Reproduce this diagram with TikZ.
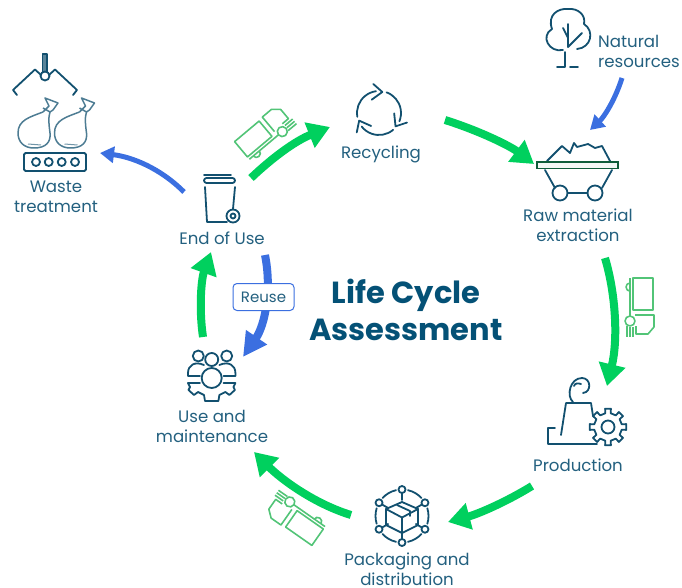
\documentclass[tikz,border=0pt]{standalone}
\usepackage{fontspec}
\setmainfont{Poppins}
\usetikzlibrary{arrows.meta}

\definecolor{lctext}{HTML}{23607F}
\definecolor{lcicon}{HTML}{12506F}
\definecolor{lctitle}{HTML}{045176}
\definecolor{lcgreen}{HTML}{00D05E}
\definecolor{lctruck}{HTML}{52C477}
\definecolor{lcblue}{HTML}{3B6FE0}
\definecolor{lcbar}{HTML}{0F5C3A}

\tikzset{
	stage/.style = {text = lctext, align = center, inner sep = 0, font = \fontsize{16.6}{20}\selectfont},
	icon/.style = {draw = lcicon, line width = 1.8, line join = round, line cap = round},
	greenflow/.style = {draw = lcgreen, line width = 8, -{Triangle[length = 22, width = 26]}},
	blueflow/.style = {draw = lcblue, line width = 5, -{Triangle[length = 14, width = 16]}},
	truck/.pic = {
		\begin{scope}[shift = {(-30, -10)}, draw = lctruck, line width = 1.6, line join = round]
			\draw (0, 0) rectangle (32, 20);
			\draw (0, 23) -- (38, 23);
			\draw (5, 23) arc (180 : 0 : 4) -- (12, 26);
			\draw (43, 23) circle (5);
			\draw (37, 18) -- (37, -1) -- (49, -1) -- (56, 5) -- (56, 17) -- (48, 17);
			\draw (49, 20) -- (59, 20) (49, 23) -- (59, 23) (48, 26) -- (59, 26);
		\end{scope}
	},
	wastebag/.pic = {
		\draw [draw = lcicon!75, line width = 1.5, line join = round]
			(43, 112) .. controls (30, 117) and (18, 120) .. (18, 133)
			.. controls (18, 142) and (24, 148) .. (34, 148)
			.. controls (46, 148) and (51, 142) .. (50, 133)
			.. controls (49, 125) and (48, 118) .. (50, 112);
		\draw [draw = lcicon!75, line width = 1.5, line join = round]
			(43, 112) -- (49, 106) -- (45, 98) -- (58, 103) -- (53, 110) -- (50, 112) -- (43, 108);
		\draw [draw = lcicon!60, line width = 1] (28, 144) -- (41, 145);
	},
}

\begin{document}
\begin{tikzpicture}[x = 1pt, y = -1pt]

	\useasboundingbox (0, 0) rectangle (682, 588);

	% Ends of the flow arrows

	\coordinate (useOut) at (251, 178);
	\coordinate (recycleIn) at (330, 127);
	\coordinate (recycleOut) at (445, 120);
	\coordinate (rawIn) at (534, 164);
	\coordinate (rawOut) at (605, 258);
	\coordinate (prodIn) at (607, 386);
	\coordinate (prodOut) at (532, 486);
	\coordinate (packIn) at (448, 522);
	\coordinate (packOut) at (351, 515);
	\coordinate (maintIn) at (254, 452);
	\coordinate (maintOut) at (203, 337);
	\coordinate (endIn) at (211, 252);
	\coordinate (reuseOut) at (265, 255);
	\coordinate (reuseIn) at (243, 357);
	\coordinate (wasteOut) at (184, 192);
	\coordinate (wasteIn) at (100, 153);
	\coordinate (naturalOut) at (622, 78);
	\coordinate (naturalIn) at (590, 130);

	% Flow arrows

	\draw [greenflow] (useOut) .. controls (272, 158) and (295, 141) .. (recycleIn);
	\draw [greenflow] (recycleOut) .. controls (480, 131) and (510, 146) .. (rawIn);
	\draw [greenflow] (rawOut) .. controls (616, 295) and (618, 340) .. (prodIn);
	\draw [greenflow] (prodOut) .. controls (506, 502) and (478, 514) .. (packIn);
	\draw [greenflow] (packOut) .. controls (315, 504) and (282, 480) .. (maintIn);
	\draw [greenflow] (maintOut) .. controls (199, 310) and (201, 280) .. (endIn);
	\draw [blueflow, line width = 8, -{Triangle[length = 24, width = 24]}] (reuseOut) .. controls (272, 290) and (265, 325) .. (reuseIn);
	\draw [blueflow] (wasteOut) .. controls (160, 168) and (132, 157) .. (wasteIn);
	\draw [blueflow] (naturalOut) .. controls (615, 100) and (604, 117) .. (naturalIn);

	% Trucks

	\pic [rotate = 40] at (264, 130) {truck};
	\pic [rotate = -90] at (643, 308) {truck};
	\pic [rotate = 145] at (293, 520) {truck};

	% Waste treatment: claw, bags and base

	\filldraw [icon, fill = lcicon!70] (42.5, 54) rectangle (47, 72);
	\draw [icon, fill = white] (45, 76) circle (4.5);
	\draw [icon] (41, 75) -- (35, 69.5) -- (13, 90) -- (17, 95);
	\draw [icon] (49, 75) -- (55, 69.5) -- (77, 90) -- (73, 95);
	\pic at (0, 0) {wastebag};
	\pic at (36.5, 0) {wastebag};
	\draw [icon, rounded corners = 1.5] (24, 153) rectangle (86, 171);
	\foreach \X in {36, 48.7, 61.7, 75}
		\draw [icon] (\X, 162) circle (4);

	% Bin

	\draw [icon] (205, 187) -- (207, 222) -- (227, 222);
	\draw [icon] (235, 187) -- (233, 209);
	\draw [icon] (204, 175) -- (231, 175);
	\draw [icon, rounded corners = 2.5] (204, 178) rectangle (235, 183);
	\draw [icon] (233, 216) circle (6.5);
	\draw [icon] (233, 216) circle (2.5);

	% Recycling

	\begin{scope}[shift = {(379, 113)}]
		\foreach \Q in {0, 120, 240}
		{
			\begin{scope}[rotate = \Q]
				\draw [icon] (170 : 22) arc (170 : 262 : 22);
				\draw [icon] (-5.7, -29) -- (3.3, -21) -- (-7.3, -13.3);
			\end{scope}
		}
	\end{scope}

	% Natural resources

	\draw [icon] (563, 50) .. controls (549, 53) and (540, 36) .. (552, 29)
		.. controls (547, 15) and (558, 8) .. (568, 9)
		.. controls (578, 8) and (586, 15) .. (584, 24)
		.. controls (595, 31) and (591, 48) .. (577, 49);
	\draw [icon] (568, 24) -- (568, 47);
	\draw [icon] (563, 28) -- (568, 38);
	\draw [icon] (582, 33) -- (568, 47);
	\draw [icon] (565, 52) -- (565, 67) -- (557, 67);
	\draw [icon] (570, 67) -- (578, 67);

	% Raw material cart

	\draw [icon] (547, 161) -- (562, 146) -- (570, 153) -- (574, 143) -- (577, 147)
		-- (588, 144) -- (595, 148) -- (602, 146) -- (610, 161);
	\draw [draw = lcbar, line width = 1.6, fill = lcbar!5] (537, 162) rectangle (618, 168.5);
	\draw [icon] (545, 170) -- (555, 188);
	\draw [icon] (612, 170) -- (602, 188);
	\draw [icon] (560, 193) circle (7.5);
	\draw [icon] (595, 193) circle (7.5);
	\draw [icon] (567.5, 193) -- (587.5, 193);

	% Production

	\draw [icon] (561, 435) -- (566, 403) -- (591, 403) -- (593, 416);
	\draw [icon] (555, 428) -- (548, 428) -- (548, 444) -- (597, 444);
	\draw [icon] (573, 402) .. controls (566, 396) and (570, 378) .. (582, 378)
		.. controls (591, 378) and (592, 392) .. (583, 393);
	\draw [icon] (574, 386) .. controls (575, 383) and (578, 383) .. (581, 384);
	\begin{scope}[shift = {(608, 427)}]
		\draw [icon, fill = white] (-11 : 14)
			\foreach \A in {0, 45, ..., 315}
			{ -- ({\A - 9} : 18.5) -- ({\A + 9} : 18.5) -- ({\A + 11} : 14) -- ({\A + 34} : 14) } -- cycle;
		\draw [icon] (0, 0) circle (6.5);
	\end{scope}

	% Packaging

	\begin{scope}[shift = {(402, 516)}]
		\foreach \A in {30, 90, ..., 330}
		{
			\draw [icon] (\A : 26.5) circle (3.5);
			\draw [icon] ({\A + 13} : 26.5) arc ({\A + 13} : {\A + 47} : 26.5);
			\draw [icon] (\A : 23) -- (\A : 16);
		}
		\draw [icon] (0, -14) -- (16, -7) -- (16, 9) -- (0, 17) -- (-16, 9) -- (-16, -7) -- cycle;
		\draw [icon] (-16, -7) -- (0, 1.5) -- (16, -7);
		\draw [icon] (0, 1.5) -- (0, 17);
		\draw [icon] (-5, -11) -- (8, -5) -- (8, 0);
	\end{scope}

	% Use and maintenance

	\draw [icon] (198.3, 356) circle (5.5);
	\draw [icon] (226.7, 356) circle (5.5);
	\draw [icon] (211.7, 359.5) circle (6.5);
	\draw [icon] (211.7, 378) circle (10);
	\draw [icon] (204, 365) .. controls (195, 361) and (188, 365) .. (188, 373) -- (188, 376) -- (200, 376);
	\draw [icon] (219.4, 365) .. controls (228.4, 361) and (235.4, 365) .. (235.4, 373) -- (235.4, 376) -- (223.4, 376);
	\draw [icon] (200, 383) -- (188, 383) -- (190, 387)
		-- (188.5, 390) -- (194, 395) -- (198, 392) -- (204, 395) -- (205, 401)
		-- (218.4, 401) -- (219.4, 395) -- (225.4, 392) -- (229.4, 395) -- (234.9, 390)
		-- (233.4, 387) -- (235.4, 383) -- (223.4, 383);

	% Stage labels

	\node [stage] (wasteLabel) at (56, 197) {Waste\\treatment};
	\node [stage] (endLabel) at (222, 238) {End of Use};
	\node [stage] (recycleLabel) at (381, 154) {Recycling};
	\node [stage] (rawLabel) at (578, 225) {Raw material\\extraction};
	\node [stage] (prodLabel) at (578, 465) {Production};
	\node [stage] (packLabel) at (407, 569) {Packaging and\\distribution};
	\node [stage] (maintLabel) at (212, 426) {Use and\\maintenance};
	\node [stage, align = left, anchor = west] (naturalLabel) at (598, 51) {Natural\\resources};

	% Reuse tag

	\node [text = lctext, font = \fontsize{15}{15}\selectfont, draw = lcblue, line width = 1, fill = white,
		rounded corners = 4, minimum width = 61, minimum height = 27, inner sep = 0] (reuseTag) at (263.5, 297) {Reuse};

	% Title

	\node [text = lctitle, align = center, inner sep = 0, font = \fontsize{30.5}{37}\selectfont\bfseries] (title) at (406, 310) {Life Cycle\\Assessment};

\end{tikzpicture}
\end{document}
